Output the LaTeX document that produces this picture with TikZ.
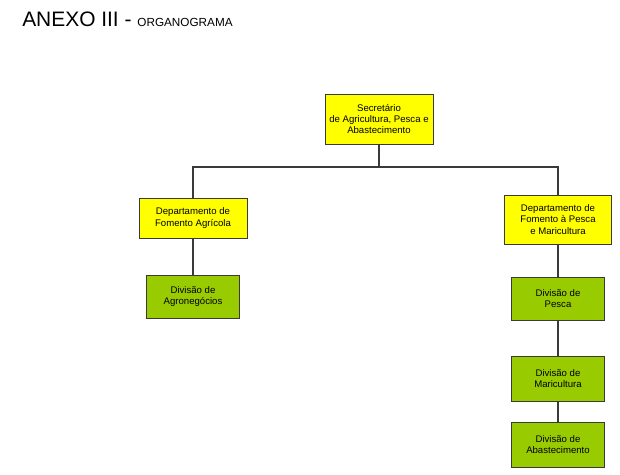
\documentclass[tikz,border=0pt]{standalone}
\usepackage{fontspec}
\setmainfont{Liberation Sans}
\definecolor{boxyellow}{HTML}{FFFF00}
\definecolor{boxgreen}{HTML}{99CC00}
\definecolor{edge}{HTML}{3A3A3A}
\begin{document}
\begin{tikzpicture}[x=0.75pt,y=-0.75pt,
  box/.style={draw=edge, line width=0.6pt, align=center, inner sep=0pt,
    font=\fontsize{7.2}{8.6}\selectfont},
  ybox/.style={box, fill=boxyellow},
  gbox/.style={box, fill=boxgreen},
  link/.style={draw=edge, line width=1.1pt}]
\useasboundingbox (0,0) rectangle (620,474);
\fill[white] (0,0) rectangle (620,474);
\node[anchor=base west, inner sep=0pt, font=\fontsize{15.7}{18}\selectfont] (title) at (22,27)
  {ANEXO III - {\fontsize{8.8}{10}\selectfont ORGANOGRAMA}};
\node[ybox, minimum width=108*0.75pt, minimum height=50*0.75pt] (sec) at (379,119)
  {Secretário\\de Agricultura, Pesca e\\Abastecimento};
\node[ybox, minimum width=108*0.75pt, minimum height=40*0.75pt] (dfa) at (193,218)
  {Departamento de\\Fomento Agrícola};
\node[ybox, minimum width=107*0.75pt, minimum height=49*0.75pt] (dfp) at (558,219.5)
  {Departamento de\\Fomento à Pesca\\e Maricultura};
\node[gbox, minimum width=93*0.75pt, minimum height=43*0.75pt] (dag) at (193,296.5)
  {Divisão de\\Agronegócios};
\node[gbox, minimum width=93*0.75pt, minimum height=43*0.75pt] (dpe) at (558,298.5)
  {Divisão de\\Pesca};
\node[gbox, minimum width=93*0.75pt, minimum height=45*0.75pt] (dma) at (558,378.5)
  {Divisão de\\Maricultura};
\node[gbox, minimum width=93*0.75pt, minimum height=45*0.75pt] (dab) at (558,444.5)
  {Divisão de\\Abastecimento};
\coordinate (bus) at (379,167);
\draw[link] (sec.south) -- (bus);
\draw[link] (dfa.north) |- (bus) -| (dfp.north);
\draw[link] (dfa.south) -- (dag.north);
\draw[link] (dfp.south) -- (dpe.north);
\draw[link] (dpe.south) -- (dma.north);
\draw[link] (dma.south) -- (dab.north);
\end{tikzpicture}
\end{document}
